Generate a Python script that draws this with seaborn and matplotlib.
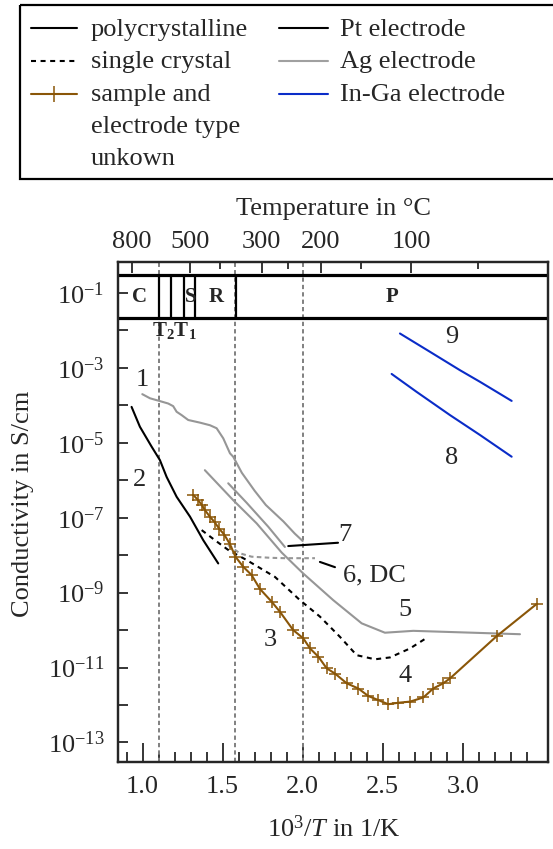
import numpy as np
import matplotlib
matplotlib.use("Agg")
import matplotlib.pyplot as plt
import seaborn as sns
from matplotlib.patches import Rectangle
from matplotlib.lines import Line2D
from matplotlib.ticker import FixedLocator, FixedFormatter, NullLocator

# ---------------- data (x = 1000/T in 1/K, values = log10 of conductivity in S/cm) -------------
c1_x = [0.998, 1.046, 1.104, 1.16, 1.191, 1.2125, 1.244, 1.285, 1.358, 1.421, 1.4625, 1.504,
        1.546, 1.566, 1.62, 1.70, 1.77, 1.88, 1.95, 2.0]
c1_log = [-3.70, -3.81, -3.88, -3.95, -4.02, -4.17, -4.26, -4.39, -4.46, -4.53, -4.61, -4.88,
          -5.28, -5.37, -5.80, -6.28, -6.66, -7.10, -7.42, -7.62]

c2_x = [0.931, 0.983, 1.056, 1.108, 1.15, 1.2125, 1.296, 1.379, 1.4725]
c2_log = [-4.04, -4.57, -5.10, -5.46, -5.91, -6.44, -6.97, -7.60, -8.22]

c3_x = [1.316, 1.345, 1.37, 1.39, 1.42, 1.45, 1.48, 1.51, 1.545, 1.58, 1.629, 1.681, 1.733,
        1.806, 1.858, 1.941, 2.004, 2.046, 2.098, 2.15, 2.202, 2.275, 2.348, 2.41, 2.473,
        2.535, 2.598, 2.671, 2.754, 2.816, 2.879, 2.921, 3.213, 3.463]
c3_log = [-6.39, -6.52, -6.66, -6.80, -6.97, -7.12, -7.30, -7.45, -7.70, -8.04, -8.31, -8.53,
          -8.90, -9.24, -9.51, -10.0, -10.22, -10.49, -10.71, -11.02, -11.16, -11.42, -11.56,
          -11.76, -11.87, -11.98, -11.94, -11.91, -11.80, -11.56, -11.42, -11.29, -10.16, -9.30]

c4_x = [1.369, 1.452, 1.535, 1.65, 1.827, 1.983, 2.108, 2.233, 2.3375, 2.452, 2.546, 2.671, 2.785]
c4_log = [-7.33, -7.60, -7.86, -8.13, -8.58, -9.20, -9.64, -10.18, -10.67, -10.78, -10.73,
          -10.49, -10.18]

c5_x = [1.389, 1.566, 1.7125, 1.869, 2.004, 2.191, 2.369, 2.514, 2.691, 3.358]
c5_log = [-5.73, -6.53, -7.15, -7.93, -8.49, -9.20, -9.82, -10.07, -10.02, -10.11]

c6_x = [1.535, 1.608, 1.681, 1.80, 1.889, 2.077]
c6_log = [-7.73, -7.95, -8.04, -8.07, -8.08, -8.08]

c7_x = [1.535, 1.65, 1.785, 1.889]
c7_log = [-6.08, -6.60, -7.24, -7.78]

c8_x = [2.556, 2.7125, 2.921, 3.108, 3.306]
c8_log = [-3.16, -3.64, -4.26, -4.79, -5.37]

c9_x = [2.608, 2.796, 2.983, 3.108, 3.306]
c9_log = [-2.08, -2.57, -3.06, -3.37, -3.88]

curve_labels = ["1", "2", "3", "4", "5", "7", "6, DC", "9", "8"]
curve_label_x = [0.996, 0.983, 1.796, 2.64, 2.64, 2.264, 2.25, 2.93, 2.93]
curve_label_log = [-3.32, -5.99, -10.27, -11.23, -9.46, -7.46, -8.53, -2.17, -5.41]

x_major = [1.0, 1.5, 2.0, 2.5, 3.0]
x_major_labels = ["1.0", "1.5", "2.0", "2.5", "3.0"]
x_minor = [0.9, 1.1, 1.2, 1.3, 1.4, 1.6, 1.7, 1.8, 1.9, 2.1, 2.2, 2.3, 2.4, 2.6, 2.7, 2.8, 2.9,
           3.1, 3.2, 3.3, 3.4]
y_tick_exps = list(range(-13, 0))
y_label_exps = [-13, -11, -9, -7, -5, -3, -1]

temps_major = [800, 500, 300, 200, 100]
temps_minor = [400, 250, 150, 50]

guide_x = [1.1, 1.58, 2.0]
phase_bounds = [1.102, 1.18, 1.26, 1.33, 1.583]
phase_names = ["C", "S", "R", "P"]
phase_name_x = [0.979, 1.30, 1.46, 2.56]
band_log = [-0.52, -1.676]

legend_left = ["polycrystalline", "single crystal", "sample and", "electrode type", "unkown"]
legend_right = ["Pt electrode", "Ag electrode", "In-Ga electrode"]

# ---------------- style ----------------
sns.set_style("ticks")
plt.rcParams["font.family"] = ["Liberation Serif", "DejaVu Serif"]
plt.rcParams["mathtext.fontset"] = "custom"
plt.rcParams["mathtext.rm"] = "Liberation Serif"
plt.rcParams["mathtext.it"] = "Liberation Serif:italic"
plt.rcParams["mathtext.bf"] = "Liberation Serif:bold"
plt.rcParams["font.size"] = 19

BLACK = "#000000"
GRAY = "#969696"
BROWN = "#8a5608"
BLUE = "#0a2cc8"
FS = 19

fig = plt.figure(figsize=(5.53, 8.49), dpi=100)
ax = fig.add_axes([0.2139, 0.1028, 0.7776, 0.5882])
ax.set_yscale("log")


def draw(xs, logs, **kw):
    sns.lineplot(x=np.asarray(xs), y=10.0 ** np.asarray(logs), ax=ax, estimator=None,
                 sort=False, legend=False, **kw)


# guide lines
for gx in guide_x:
    ax.axvline(gx, color="#808080", lw=1.4, ls=(0, (2.2, 1.6)), zorder=1)

# phase band
for bl in band_log:
    ax.axhline(10.0 ** bl, color=BLACK, lw=2.3, zorder=3)
ax.vlines(phase_bounds, 10.0 ** band_log[1], 10.0 ** band_log[0], color=BLACK, lw=1.6, zorder=3)
for name, px in zip(phase_names, phase_name_x):
    ax.text(px, 10.0 ** -1.1, name, ha="center", va="center", fontsize=15,
            fontweight="bold", zorder=4)
ax.text(1.196, 10.0 ** -2.0, r"$\mathbf{T_2T_1}$", ha="center", va="center", fontsize=15)

# curves
draw(c1_x, c1_log, color=GRAY, lw=1.5)
draw(c5_x, c5_log, color=GRAY, lw=1.5)
draw(c7_x, c7_log, color=GRAY, lw=1.5)
draw(c6_x, c6_log, color=GRAY, lw=1.5, linestyle=(0, (2.2, 1.6)))
draw(c2_x, c2_log, color=BLACK, lw=1.5)
draw(c4_x, c4_log, color=BLACK, lw=1.5, linestyle=(0, (2.4, 2.2)))
draw(c3_x, c3_log, color=BROWN, lw=1.5, marker="+", markersize=8, markeredgewidth=1.1,
     markeredgecolor=BROWN)
draw(c9_x, c9_log, color=BLUE, lw=1.5)
draw(c8_x, c8_log, color=BLUE, lw=1.5)

# curve labels and leaders
for lab, lx, ll in zip(curve_labels, curve_label_x, curve_label_log):
    ha = "left" if lab == "6, DC" else "center"
    ax.text(lx, 10.0 ** ll, lab, ha=ha, va="center", fontsize=FS)
ax.plot([1.91, 2.221], [10.0 ** -7.756, 10.0 ** -7.668], color=BLACK, lw=1.5)
ax.plot([2.108, 2.202], [10.0 ** -8.18, 10.0 ** -8.32], color=BLACK, lw=1.5)

# axes limits and ticks
ax.set_xlim(0.848, 3.535)
ax.set_ylim(10.0 ** -13.515, 10.0 ** -0.18)
ax.xaxis.set_major_locator(FixedLocator(x_major))
ax.xaxis.set_major_formatter(FixedFormatter(x_major_labels))
ax.xaxis.set_minor_locator(FixedLocator(x_minor))
ax.yaxis.set_major_locator(FixedLocator([10.0 ** e for e in y_tick_exps]))
ax.yaxis.set_major_formatter(FixedFormatter(
    [r"$10^{%d}$" % e if e in y_label_exps else "" for e in y_tick_exps]))
ax.yaxis.set_minor_locator(NullLocator())
ax.tick_params(axis="x", which="major", direction="in", length=14, width=1.3, pad=10,
               labelsize=FS, top=False)
ax.tick_params(axis="x", which="minor", direction="in", length=7, width=1.3, top=False)
ax.tick_params(axis="y", which="major", direction="in", length=7, width=1.3, pad=10,
               labelsize=FS, right=False)
for sp in ax.spines.values():
    sp.set_linewidth(1.6)
    sp.set_visible(True)

ax.set_xlabel(r"$10^3/T$ in 1/K", fontsize=FS)
ax.xaxis.set_label_coords(0.5, -0.107)
ax.set_ylabel("Conductivity in S/cm", fontsize=FS)
ax.yaxis.set_label_coords(-0.195, 0.516)

# top temperature axis
ax2 = ax.twiny()
ax2.set_xlim(ax.get_xlim())
ax2.xaxis.set_major_locator(FixedLocator([1000.0 / (t + 273.15) for t in temps_major]))
ax2.xaxis.set_major_formatter(FixedFormatter([str(t) for t in temps_major]))
ax2.xaxis.set_minor_locator(FixedLocator([1000.0 / (t + 273.15) for t in temps_minor]))
ax2.tick_params(axis="x", which="major", direction="in", length=8, width=1.3, pad=7,
                labelsize=FS)
ax2.tick_params(axis="x", which="minor", direction="in", length=5, width=1.3)
for sp in ax2.spines.values():
    sp.set_linewidth(1.6)
ax2.set_xlabel("Temperature in °C", fontsize=FS)
ax2.xaxis.set_label_coords(0.5, 1.095)

# legend drawn in figure pixel coordinates
lax = fig.add_axes([0, 0, 1, 1], zorder=10)
lax.set_xlim(0, 553)
lax.set_ylim(849, 0)
lax.axis("off")
lax.add_patch(Rectangle((20, 5), 545, 174, fill=False, lw=1.6, ec=BLACK, clip_on=False))
row_base = [35.7, 68.2, 100.5, 132.8, 165.1]
row_line = [28.3, 61.0, 94.3]
left_styles = [dict(color=BLACK, ls="-"), dict(color=BLACK, ls=(0, (2.4, 2.2))),
               dict(color=BROWN, ls="-")]
right_styles = [dict(color=BLACK, ls="-"), dict(color="#a0a0a0", ls="-"),
                dict(color=BLUE, ls="-")]
for i in range(3):
    lax.add_line(Line2D([30.7, 76.7], [row_line[i]] * 2, lw=1.5, **left_styles[i]))
    lax.add_line(Line2D([279.3, 328.3], [row_line[i]] * 2, lw=1.5, **right_styles[i]))
    lax.text(340, row_base[i], legend_right[i], fontsize=FS, va="baseline", ha="left")
lax.add_line(Line2D([53.7], [row_line[2]], color=BROWN, marker="+", markersize=11,
                    markeredgewidth=1.1, ls="none"))
for i, txt in enumerate(legend_left):
    lax.text(90.7, row_base[i], txt, fontsize=FS, va="baseline", ha="left")

fig.savefig("out.png", dpi=100)
